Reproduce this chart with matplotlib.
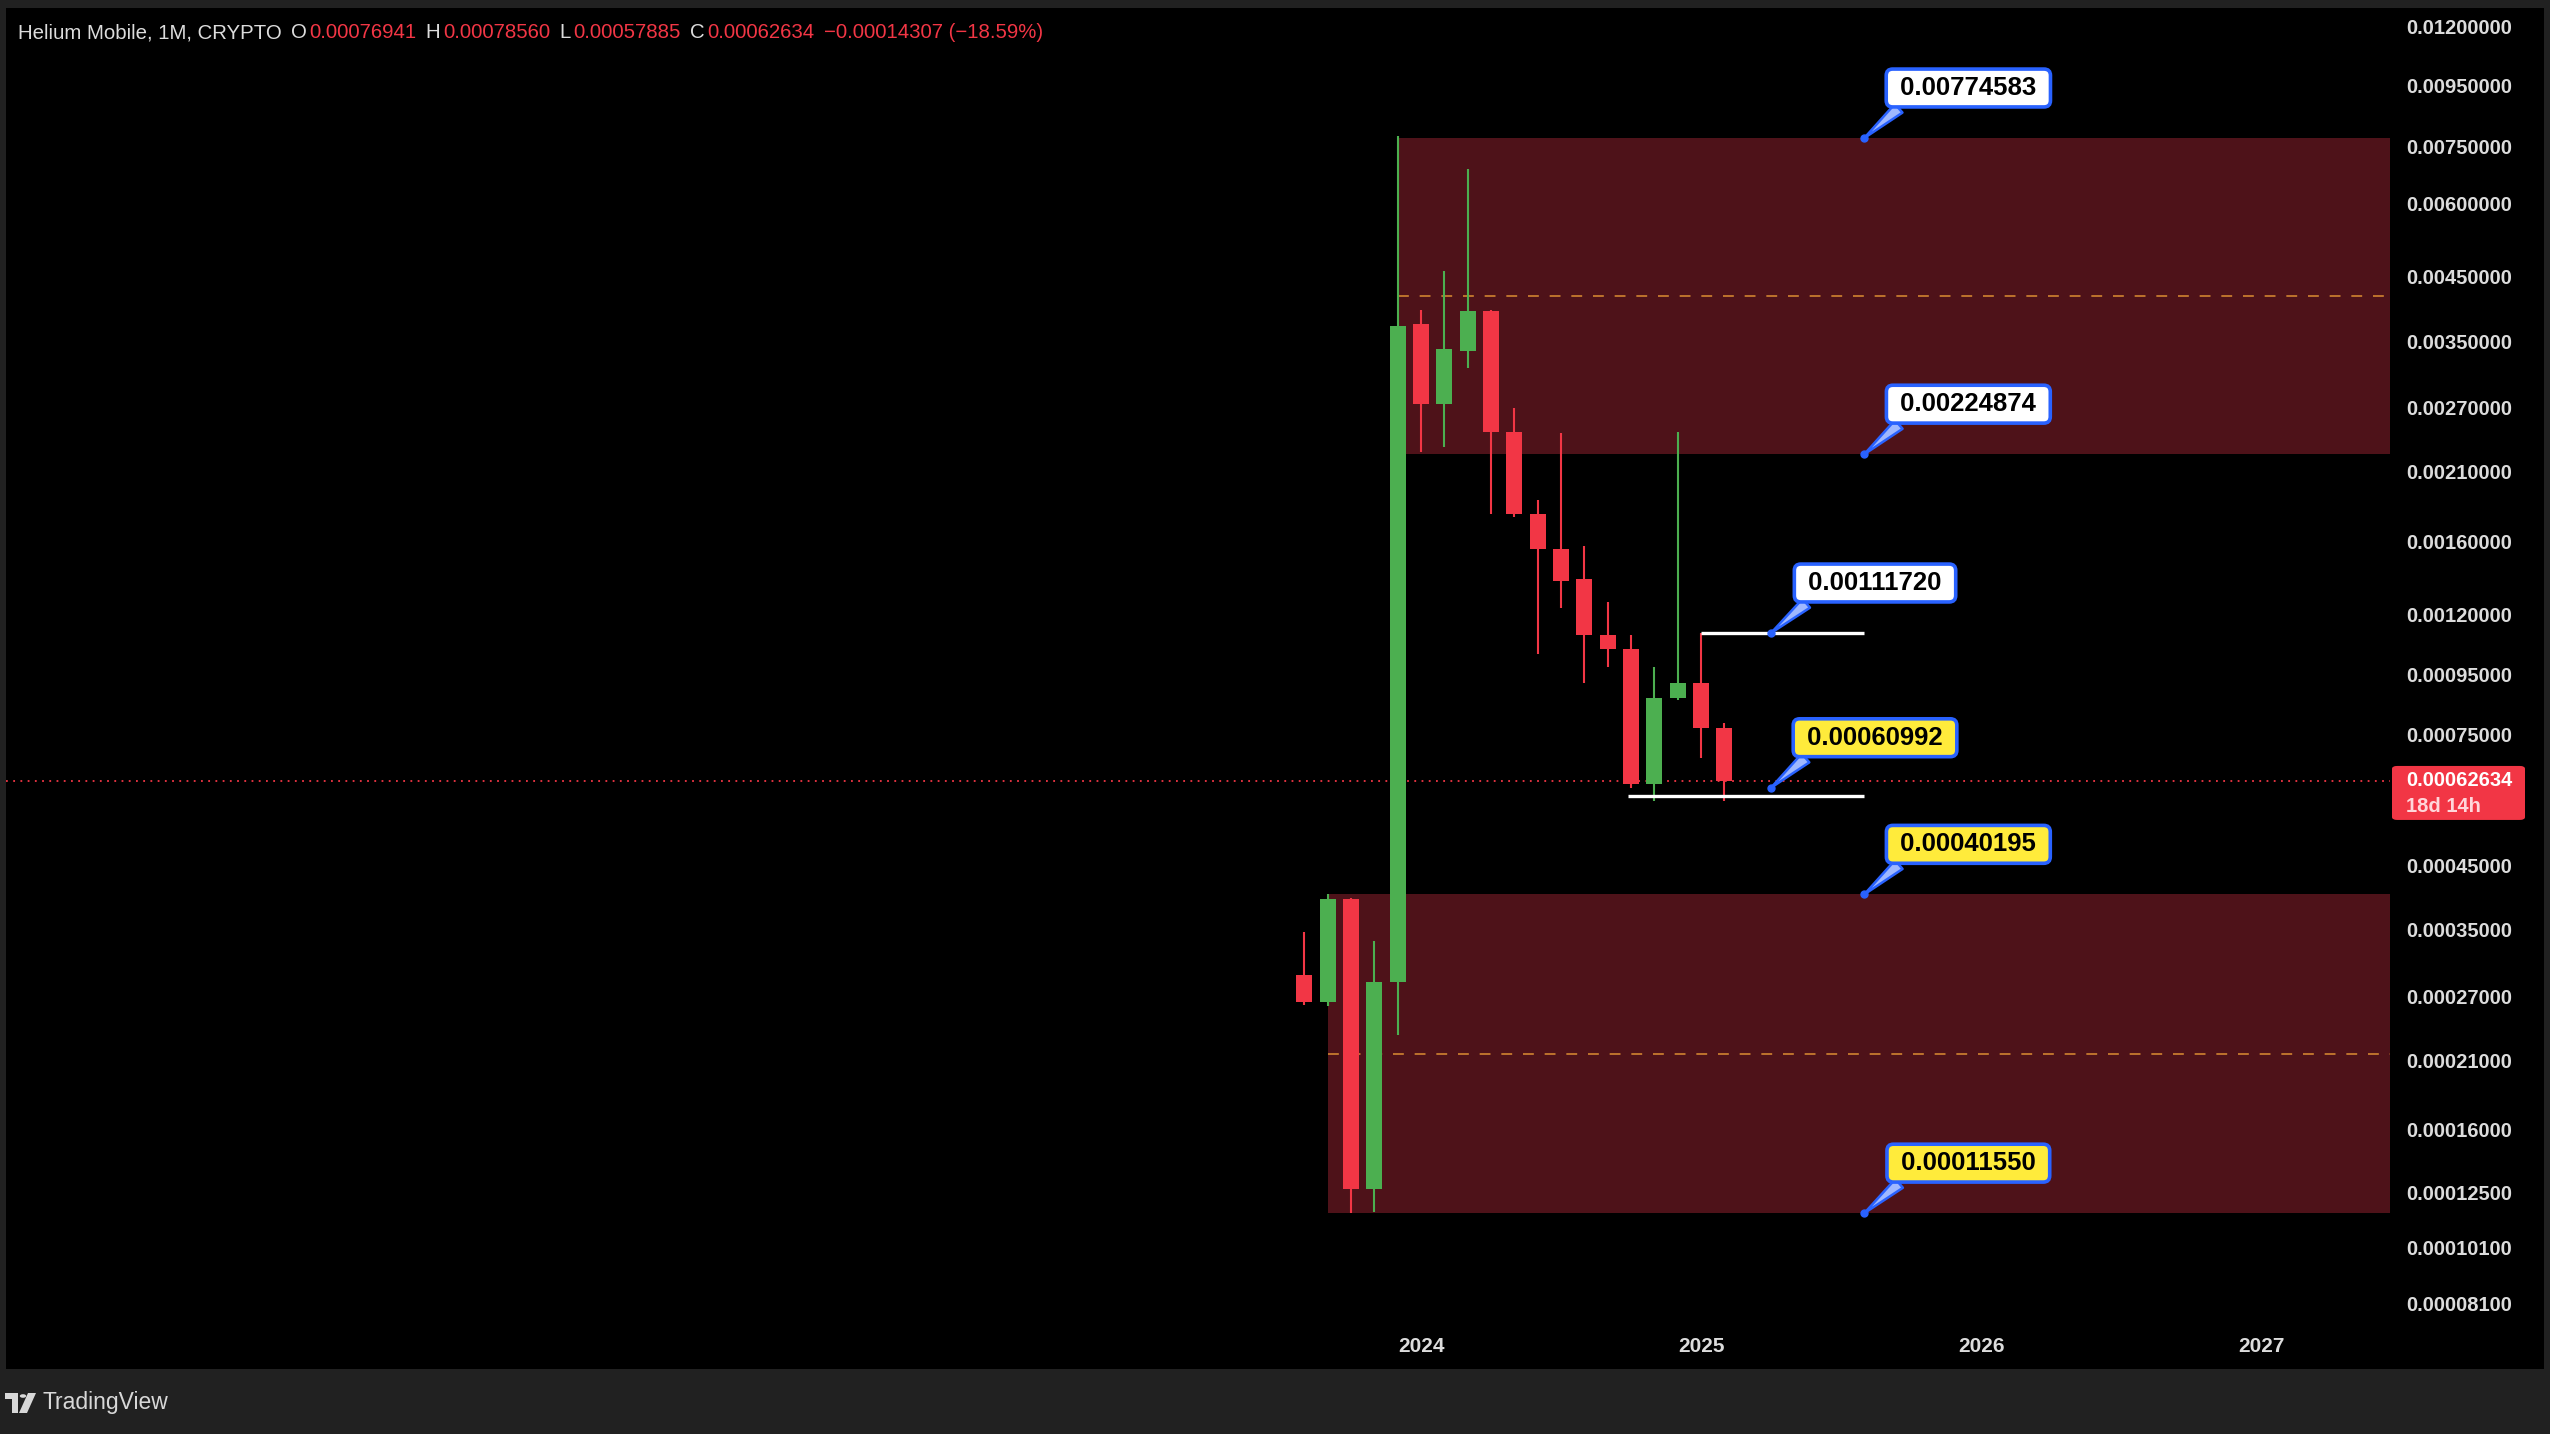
import matplotlib.pyplot as plt
import matplotlib.patches as mpatches
from matplotlib.ticker import FixedLocator, NullLocator, FixedFormatter

# monthly candles, Aug 2023 .. Feb 2025
months = ["2023-08", "2023-09", "2023-10", "2023-11", "2023-12",
          "2024-01", "2024-02", "2024-03", "2024-04", "2024-05", "2024-06",
          "2024-07", "2024-08", "2024-09", "2024-10", "2024-11", "2024-12",
          "2025-01", "2025-02"]
opens = [0.000293, 0.000264, 0.000394, 0.000127, 0.000285,
         0.00374, 0.00274, 0.00337, 0.00393, 0.00245, 0.00178,
         0.00155, 0.00138, 0.00111, 0.00105, 0.00062, 0.000865,
         0.00092, 0.00076941]
highs = [0.000347, 0.00040195, 0.000396, 0.000335, 0.0078,
         0.00395, 0.00461, 0.00686, 0.00395, 0.00269, 0.00188,
         0.00244, 0.00157, 0.00126, 0.00111, 0.00098, 0.00245,
         0.0011172, 0.0007856]
lows = [0.000261, 0.00026, 0.0001155, 0.000116, 0.000232,
        0.00227, 0.00231, 0.00315, 0.00178, 0.00176, 0.00103,
        0.00123, 0.00092, 0.00098, 0.00061, 0.00058, 0.00086,
        0.000685, 0.00057885]
closes = [0.000264, 0.000394, 0.000127, 0.000285, 0.00371,
          0.00274, 0.00339, 0.00393, 0.00245, 0.00178, 0.00155,
          0.00137, 0.00111, 0.00105, 0.00062, 0.000865, 0.00092,
          0.00076941, 0.00062634]
last_price = 0.00062634

# supply / demand zones: (first month index, top, bottom)
zone_starts = [4, 1]
zone_tops = [0.00774583, 0.00040195]
zone_bottoms = [0.00224874, 0.0001155]

# horizontal levels drawn in white
level_values = [0.0011172, 0.00059]
level_starts = [17, 13.85]
level_ends = [24, 24]

# callout labels
callout_values = [0.00774583, 0.00224874, 0.0011172, 0.00060992, 0.00040195, 0.0001155]
callout_months = [24, 24, 20, 20, 24, 24]
callout_labels = ["0.00774583", "0.00224874", "0.00111720", "0.00060992", "0.00040195", "0.00011550"]
callout_yellow = [False, False, False, True, True, True]

price_ticks = [0.012, 0.0095, 0.0075, 0.006, 0.0045, 0.0035, 0.0027, 0.0021, 0.0016,
               0.0012, 0.00095, 0.00075, 0.00045, 0.00035, 0.00027, 0.00021, 0.00016,
               0.000125, 0.000101, 0.000081]
year_ticks = [5, 17, 29, 41]
year_labels = ["2024", "2025", "2026", "2027"]

header_texts = ["Helium Mobile, 1M, CRYPTO", "O", "0.00076941", "H", "0.00078560",
                "L", "0.00057885", "C", "0.00062634", "\u22120.00014307 (\u221218.59%)"]
header_red = [False, False, True, False, True, False, True, False, True, True]

W, H = 2550, 1434
GREEN = "#4caf50"
RED = "#f23645"
BLUE = "#2962ff"
ZONE = "#4e1219"
TEXT = "#dcdcdc"
SANS = ["Liberation Sans", "DejaVu Sans"]


def fx(x):
    return x / W


def fy(y):
    return 1 - y / H


fig = plt.figure(figsize=(W / 100, H / 100), dpi=100, facecolor="#212121")
fig.patches.append(mpatches.Rectangle((fx(6), fy(1369)), fx(2544 - 6), (1369 - 8) / H,
                                      transform=fig.transFigure, facecolor="black",
                                      edgecolor="none", zorder=-10))

ax = fig.add_axes([fx(6), fy(1320), fx(2390 - 6), (1320 - 8) / H])
ax.set_facecolor("black")
for s in ax.spines.values():
    s.set_visible(False)
ax.set_yscale("log")
ax.set_ylim(7.604e-5, 0.01288)
ax.set_xlim(-55.65, 46.53)

# zones + midlines
for x0, top, bot in zip(zone_starts, zone_tops, zone_bottoms):
    ax.add_patch(mpatches.Rectangle((x0, bot), 100, top - bot, facecolor=ZONE,
                                    edgecolor="none", zorder=1))
    mid = (top * bot) ** 0.5
    ax.plot([x0, 100], [mid, mid], color="#c67b2f", lw=1.3, ls=(0, (6, 6)), zorder=2)

# candles
for i in range(len(months)):
    c = GREEN if closes[i] >= opens[i] else RED
    ax.plot([i, i], [lows[i], highs[i]], color=c, lw=1.5, zorder=3, solid_capstyle="butt")
    lo, hi = min(opens[i], closes[i]), max(opens[i], closes[i])
    ax.bar(i, hi - lo, bottom=lo, width=0.68, color=c, edgecolor="none", zorder=4)

# current price line
ax.axhline(last_price, color=RED, lw=1.3, ls=(0, (1, 3)), zorder=2)

# white levels
for v, a, b in zip(level_values, level_starts, level_ends):
    ax.plot([a, b], [v, v], color="white", lw=2.4, zorder=5, solid_capstyle="butt")

# callouts
for v, m, lab, yel in zip(callout_values, callout_months, callout_labels, callout_yellow):
    fc = "#ffeb3b" if yel else "white"
    ax.annotate(" " + lab + " ", xy=(m, v), xytext=(104, 50), textcoords="offset pixels",
                ha="center", va="center", fontsize=18.5, fontweight="bold", color="black",
                family=SANS, zorder=7,
                bbox=dict(boxstyle="round,pad=0.27,rounding_size=0.25", fc=fc, ec=BLUE, lw=2.6),
                arrowprops=dict(arrowstyle="wedge,tail_width=0.45,shrink_factor=0.5",
                                fc="#9fb8ff", ec=BLUE, lw=1.8, relpos=(0.1, 0.0),
                                shrinkA=0, shrinkB=0))
    ax.plot(m, v, "o", color=BLUE, ms=5, zorder=8)

# price axis
ax.yaxis.tick_right()
ax.yaxis.set_major_locator(FixedLocator(price_ticks))
ax.yaxis.set_major_formatter(FixedFormatter(["%.8f" % t for t in price_ticks]))
ax.yaxis.set_minor_locator(NullLocator())
ax.tick_params(axis="y", length=0, pad=11.5, labelsize=14.5, labelcolor=TEXT)
for t in ax.get_yticklabels():
    t.set_family(SANS)
    t.set_fontweight("bold")

# time axis
ax.xaxis.set_major_locator(FixedLocator(year_ticks))
ax.xaxis.set_major_formatter(FixedFormatter(year_labels))
ax.xaxis.set_minor_locator(NullLocator())
ax.tick_params(axis="x", length=0, pad=12, labelsize=15, labelcolor=TEXT)
for t in ax.get_xticklabels():
    t.set_family(SANS)
    t.set_fontweight("bold")

# last price tag on the scale
fig.canvas.draw()
renderer = fig.canvas.get_renderer()
py = H - ax.transData.transform((0, last_price))[1]
fig.patches.append(mpatches.FancyBboxPatch((fx(2392), fy(py + 39)), fx(2525 - 2392), 54 / H,
                                           boxstyle="round,pad=0,rounding_size=0.002",
                                           transform=fig.transFigure, fc=RED, ec="none",
                                           zorder=5))
fig.text(fx(2406), fy(py), "%.8f" % last_price, color="white", fontsize=14.5, fontweight="bold",
         family=SANS, va="center", ha="left", zorder=6)
fig.text(fx(2406), fy(py + 26), "18d 14h", color="#ffd6da", fontsize=14.5, fontweight="bold",
         family=SANS, va="center", ha="left", zorder=6)

# header legend, laid out left to right
hx = 18
for i, (s, red) in enumerate(zip(header_texts, header_red)):
    t = fig.text(fx(hx), fy(33), s, color=RED if red else TEXT, fontsize=14.7,
                 family=SANS, va="center", ha="left")
    w = t.get_window_extent(renderer).width
    hx += w + (3 if (not red and i > 0) else 9)

# TradingView mark
logo = "#d8d8d8"
fig.patches.append(mpatches.Polygon([(fx(5), fy(1393)), (fx(18), fy(1393)), (fx(18), fy(1413)),
                                     (fx(12), fy(1413)), (fx(12), fy(1399)), (fx(5), fy(1399))],
                                    transform=fig.transFigure, fc=logo, ec="none"))
fig.patches.append(mpatches.Circle((fx(23), fy(1396)), 3.2 / W, transform=fig.transFigure,
                                   fc=logo, ec="none"))
fig.patches.append(mpatches.Polygon([(fx(28), fy(1393)), (fx(36), fy(1393)), (fx(27), fy(1413)),
                                     (fx(19), fy(1413))],
                                    transform=fig.transFigure, fc=logo, ec="none"))
fig.text(fx(43), fy(1402), "TradingView", color=logo, fontsize=16.5, family=SANS, va="center")

fig.savefig("out.png", dpi=100, facecolor=fig.get_facecolor())
